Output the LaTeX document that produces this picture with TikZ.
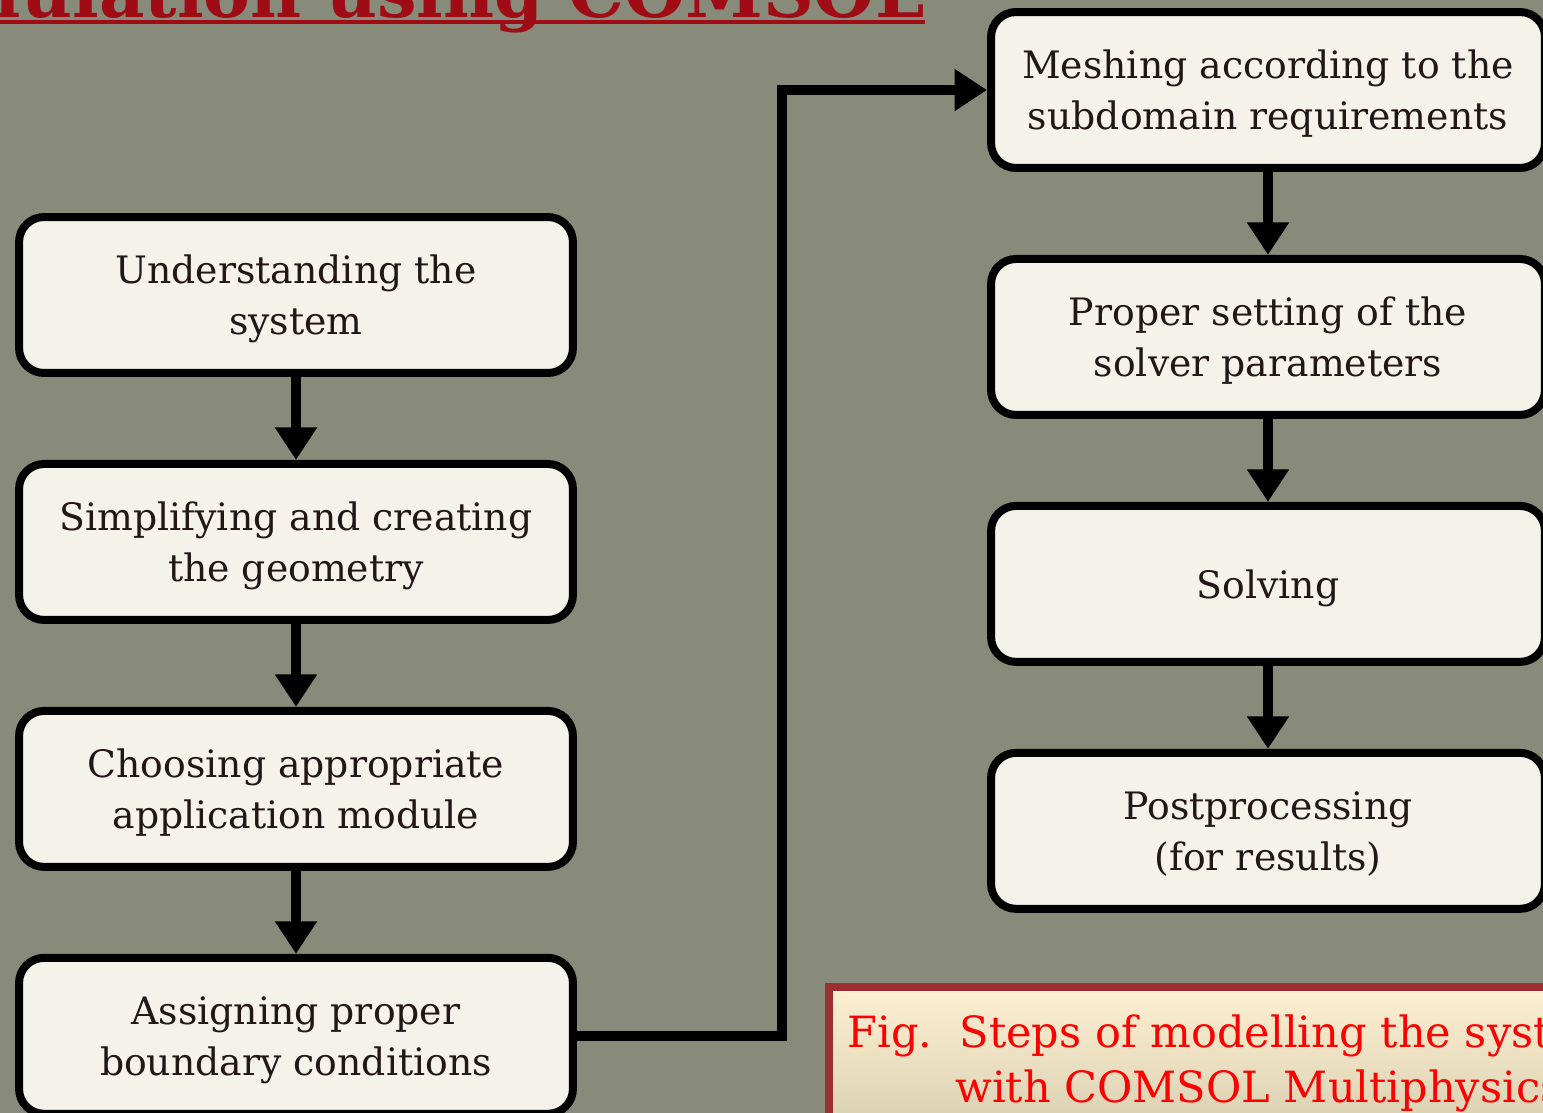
\documentclass[tikz,border=0pt]{standalone}
\usepackage{fontspec}
\setmainfont{DejaVu Serif}
\usetikzlibrary{arrows.meta, positioning, calc}

\definecolor{slidebg}{RGB}{137,139,122}
\definecolor{boxfill}{RGB}{245,242,234}
\definecolor{boxtext}{RGB}{35,22,22}
\definecolor{titlered}{RGB}{160,12,22}
\definecolor{capframe}{RGB}{156,48,48}
\definecolor{captop}{RGB}{254,240,210}
\definecolor{capbottom}{RGB}{218,209,178}

\tikzset{
    stepbox/.style={draw=black, line width=0.16cm, rounded corners=0.5cm, fill=boxfill,
        text=boxtext, minimum width=11.08cm, minimum height=3.12cm, inner sep=0pt,
        text depth=0pt, align=center, font=\fontsize{21.5}{29}\selectfont},
    flow/.style={draw=black, line width=0.2cm, -{Triangle[width=0.8cm,length=0.65cm]}},
}

\begin{document}
\begin{tikzpicture}[x=0.02cm, y=-0.02cm, node distance=1.66cm]
    % Slide background
    \fill[slidebg] (0,0) rectangle (1543,1113);
    \useasboundingbox (0,0) rectangle (1543,1113);

    % Slide title (cut off by the top edge)
    \node[anchor=base east, inner sep=0pt, text=titlered,
          font=\fontsize{40}{40}\selectfont\bfseries] (title) at (925,17) {Simulation using COMSOL};
    \draw[titlered, line width=0.07cm] (0,22) -- (title.base east |- 0,22);

    % Left column of steps
    \node[stepbox] (understand) at (296,295) {Understanding the\\system};
    \node[stepbox, below=of understand] (simplify) {Simplifying and creating\\the geometry};
    \node[stepbox, below=of simplify] (choose) {Choosing appropriate\\application module};
    \node[stepbox, below=of choose] (assign) {Assigning proper\\boundary conditions};

    % Right column of steps
    \node[stepbox] (mesh) at (1268,90) {Meshing according to the\\subdomain requirements};
    \node[stepbox, below=of mesh] (solver) {Proper setting of the\\solver parameters};
    \node[stepbox, below=of solver] (solve) {Solving};
    \node[stepbox, below=of solve] (post) {Postprocessing\\(for results)};

    % Arrows
    \draw[flow] (understand) -- (simplify);
    \draw[flow] (simplify) -- (choose);
    \draw[flow] (choose) -- (assign);
    \coordinate (bend) at ($(assign.east)!0.5!(mesh.west |- assign.east)$);
    \draw[flow] (assign.east) -- (bend) |- (mesh.west);
    \draw[flow] (mesh) -- (solver);
    \draw[flow] (solver) -- (solve);
    \draw[flow] (solve) -- (post);

    % Figure caption
    \path[draw=capframe, line width=0.16cm, top color=captop, bottom color=capbottom]
        (829,987) rectangle (1600,1125);
    \node[anchor=north west, inner sep=0pt, text=red, align=left,
          font=\fontsize{24.5}{31.5}\selectfont] (caption) at (847,1014)
        {Fig.\ \ Steps of modelling the system\\\hspace*{2.16cm}with COMSOL Multiphysics};
\end{tikzpicture}
\end{document}
